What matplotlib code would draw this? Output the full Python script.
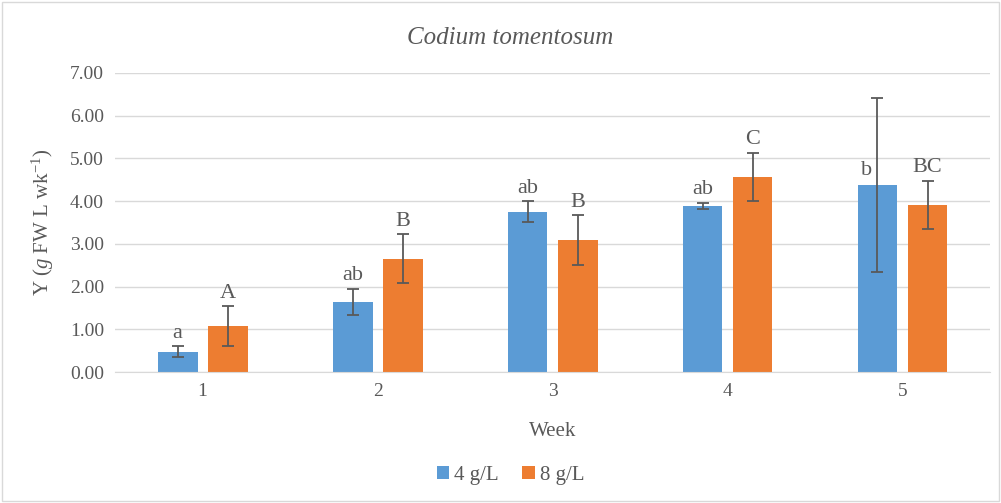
import matplotlib
matplotlib.use("Agg")
import matplotlib.pyplot as plt
import numpy as np
from matplotlib.patches import Rectangle

plt.rcParams['font.family'] = ['Liberation Serif']
plt.rcParams['mathtext.fontset'] = 'custom'
plt.rcParams['mathtext.rm'] = 'Liberation Serif'
plt.rcParams['mathtext.it'] = 'Liberation Serif:italic'

weeks = ['1', '2', '3', '4', '5']
low_mean = [0.47, 1.64, 3.75, 3.89, 4.38]
low_err = [0.13, 0.31, 0.25, 0.07, 2.03]
high_mean = [1.08, 2.65, 3.09, 4.57, 3.91]
high_err = [0.46, 0.57, 0.58, 0.56, 0.57]
low_letters = ['a', 'ab', 'ab', 'ab', 'b']
high_letters = ['A', 'B', 'B', 'C', 'BC']

blue = '#5b9bd5'
orange = '#ed7d31'
grey = '#595959'

fig = plt.figure(figsize=(10.01, 5.03), dpi=100)
fig.patches.append(Rectangle((0.002, 0.003), 0.996, 0.994, transform=fig.transFigure,
                             fill=False, edgecolor='#d9d9d9', linewidth=1))
ax = fig.add_axes([0.115, 0.2604, 0.874, 0.5946])

x = np.arange(len(weeks))
w = 0.228
off = 0.143
ax.bar(x - off, low_mean, w, color=blue, label='4 g/L', zorder=2)
ax.bar(x + off, high_mean, w, color=orange, label='8 g/L', zorder=2)
ax.errorbar(x - off, low_mean, yerr=low_err, fmt='none', ecolor=grey,
            elinewidth=1.3, capsize=4.5, capthick=1.3, zorder=3)
ax.errorbar(x + off, high_mean, yerr=high_err, fmt='none', ecolor=grey,
            elinewidth=1.3, capsize=4.5, capthick=1.3, zorder=3)

for i in range(len(weeks)):
    # the week 5 low-dose letter sits beside its long error bar
    if i == 4:
        ax.text(x[i] - off - 0.06, low_mean[i] + 0.12, low_letters[i], ha='center',
                va='bottom', fontsize=16, color=grey)
    else:
        ax.text(x[i] - off, low_mean[i] + low_err[i] + 0.08, low_letters[i], ha='center',
                va='bottom', fontsize=16, color=grey)
    ax.text(x[i] + off, high_mean[i] + high_err[i] + 0.08, high_letters[i], ha='center',
            va='bottom', fontsize=16, color=grey)

ax.set_xlim(-0.5, 4.5)
ax.set_ylim(0, 7)
ax.set_yticks(np.arange(0, 7.01, 1))
ax.set_yticklabels(['%.2f' % v for v in np.arange(0, 7.01, 1)])
ax.set_xticks(x)
ax.set_xticklabels(weeks)
ax.yaxis.grid(True, color='#d9d9d9', linewidth=1, zorder=0)
ax.set_axisbelow(True)
for s in ['top', 'right', 'left']:
    ax.spines[s].set_visible(False)
ax.spines['bottom'].set_color('#d9d9d9')
ax.tick_params(axis='both', length=0, labelsize=14, colors=grey, pad=8)

fig.text(0.51, 0.925, 'Codium tomentosum', fontsize=18, style='italic', color=grey,
         ha='center', va='center')
ax.set_xlabel('Week', fontsize=15, color=grey, labelpad=16)
ax.set_ylabel(r'Y ($\mathit{g}$ FW L wk$^{-1}$)', fontsize=15, color=grey, labelpad=10)

fig.legend(*ax.get_legend_handles_labels(), loc='center', bbox_to_anchor=(0.51, 0.055),
           ncol=2, frameon=False, fontsize=15, handlelength=0.6, handleheight=0.6,
           handletextpad=0.25, columnspacing=1.1, labelcolor=grey)

fig.savefig('out.png', dpi=100)
